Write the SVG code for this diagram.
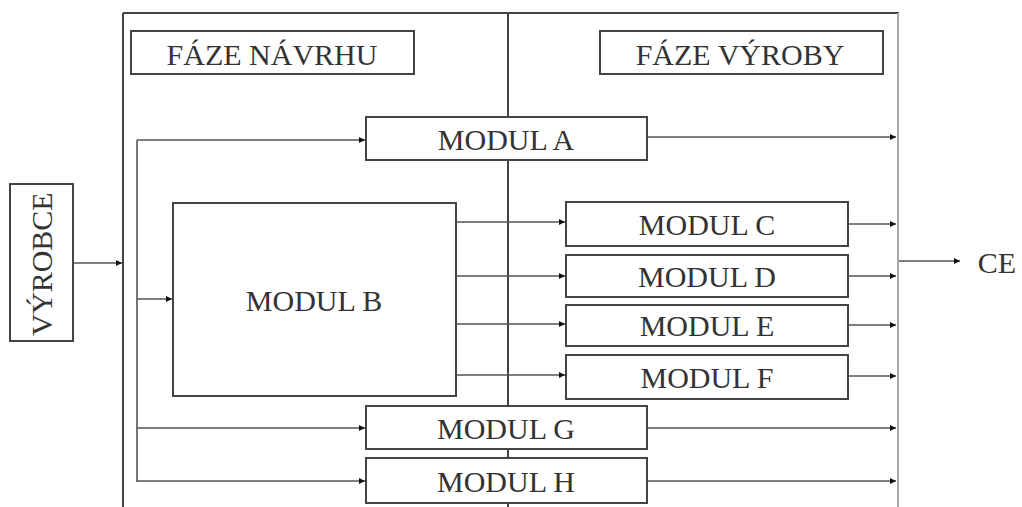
<svg xmlns="http://www.w3.org/2000/svg" width="1022" height="507" viewBox="0 0 1022 507">
<style>
.box{fill:#fff;stroke:#444;stroke-width:2}
.ln{fill:none;stroke:#555;stroke-width:1.6}
.fr{fill:none;stroke:#444;stroke-width:2}
text{font-family:"Liberation Serif","Times New Roman",serif;font-size:30px;fill:#333;text-anchor:middle}
</style>
<defs>
<marker id="ah" viewBox="0 0 8 8" refX="8" refY="4" markerWidth="6" markerHeight="6" markerUnits="userSpaceOnUse" orient="auto">
<path d="M0,0 L8,4 L0,8 z" fill="#111"/>
</marker>
</defs>
<g id="frame">
<line class="fr" x1="123" y1="13" x2="899" y2="13"/>
<line class="fr" x1="123" y1="13" x2="123" y2="507"/>
<line class="fr" x1="508" y1="13" x2="508" y2="507"/>
<line x1="898" y1="13" x2="898" y2="507" stroke="#aaa" stroke-width="2"/>
</g>
<g id="connectors">
<line class="ln" x1="73" y1="263" x2="122" y2="263" marker-end="url(#ah)"/>
<line class="ln" x1="137" y1="140" x2="137" y2="482" stroke="#444" stroke-width="2"/>
<line class="ln" x1="137" y1="140" x2="365" y2="140" marker-end="url(#ah)"/>
<line class="ln" x1="137" y1="481" x2="365" y2="481" marker-end="url(#ah)"/>
<line class="ln" x1="137" y1="299" x2="172" y2="299" marker-end="url(#ah)"/>
<line class="ln" x1="137" y1="428" x2="365" y2="428" marker-end="url(#ah)"/>
<line class="ln" x1="647" y1="137" x2="896" y2="137" marker-end="url(#ah)"/>
<line class="ln" x1="456" y1="222" x2="565" y2="222" marker-end="url(#ah)"/>
<line class="ln" x1="456" y1="276" x2="565" y2="276" marker-end="url(#ah)"/>
<line class="ln" x1="456" y1="324" x2="565" y2="324" marker-end="url(#ah)" stroke-width="2.5"/>
<line class="ln" x1="456" y1="375" x2="565" y2="375" marker-end="url(#ah)"/>
<line class="ln" x1="848" y1="224" x2="896" y2="224" marker-end="url(#ah)"/>
<line class="ln" x1="848" y1="276" x2="896" y2="276" marker-end="url(#ah)"/>
<line class="ln" x1="848" y1="325" x2="896" y2="325" marker-end="url(#ah)"/>
<line class="ln" x1="848" y1="376" x2="896" y2="376" marker-end="url(#ah)"/>
<line class="ln" x1="647" y1="428" x2="896" y2="428" marker-end="url(#ah)"/>
<line class="ln" x1="647" y1="481" x2="896" y2="481" marker-end="url(#ah)"/>
<line class="ln" x1="899" y1="261" x2="960" y2="261" marker-end="url(#ah)"/>
</g>
<g id="faze-navrhu"><rect class="box" x="131" y="31" width="283" height="43" stroke="#888"/><text x="272" y="65">FÁZE NÁVRHU</text></g>
<g id="faze-vyroby"><rect class="box" x="600" y="31" width="283" height="43" stroke="#888"/><text x="740" y="65">FÁZE VÝROBY</text></g>
<g id="vyrobce"><rect class="box" x="10" y="184" width="63" height="157" stroke="#777"/><text transform="translate(52,264) rotate(-90)">VÝROBCE</text></g>
<g id="modul-a"><rect class="box" x="366" y="117" width="281" height="43"/><text x="506" y="150">MODUL A</text></g>
<g id="modul-b"><rect class="box" x="173" y="203" width="283" height="193" stroke="#999"/><text x="314" y="311">MODUL B</text></g>
<g id="modul-c"><rect class="box" x="566" y="202" width="282" height="44"/><text x="707" y="235">MODUL C</text></g>
<g id="modul-d"><rect class="box" x="566" y="255" width="282" height="42"/><text x="707" y="287">MODUL D</text></g>
<g id="modul-e"><rect class="box" x="566" y="305" width="282" height="41"/><text x="707" y="336">MODUL E</text></g>
<g id="modul-f"><rect class="box" x="566" y="355" width="282" height="44"/><text x="707" y="388">MODUL F</text></g>
<g id="modul-g"><rect class="box" x="366" y="406" width="281" height="43"/><text x="506" y="439">MODUL G</text></g>
<g id="modul-h"><rect class="box" x="366" y="458" width="281" height="45"/><text x="506" y="492">MODUL H</text></g>
<g id="ce"><text x="997" y="273">CE</text></g>
</svg>
